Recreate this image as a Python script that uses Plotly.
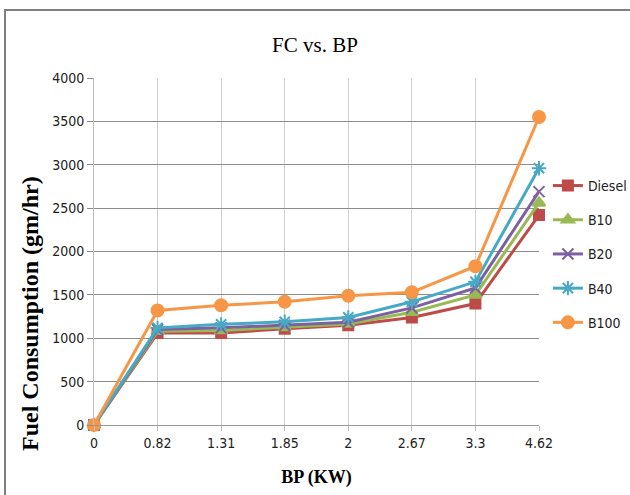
import plotly.graph_objects as go

bp = ["0", "0.82", "1.31", "1.85", "2", "2.67", "3.3", "4.62"]
diesel = [0, 1060, 1060, 1110, 1150, 1240, 1400, 2420]
b10 = [0, 1080, 1090, 1125, 1165, 1300, 1500, 2560]
b20 = [0, 1100, 1120, 1150, 1185, 1350, 1580, 2690]
b40 = [0, 1120, 1160, 1190, 1240, 1420, 1650, 2960]
b100 = [0, 1320, 1380, 1420, 1490, 1530, 1830, 3550]

series = [
    ("Diesel", diesel, "#BE4B48", "square", 10),
    ("B10", b10, "#98B954", "triangle-up", 11),
    ("B20", b20, "#7D60A0", "x-thin-open", 11),
    ("B40", b40, "#46AAC5", "asterisk-open", 12),
    ("B100", b100, "#F79646", "circle", 12),
]

narrow = "Liberation Sans Narrow, DejaVu Sans Condensed, Roboto Condensed, Arial Narrow, sans-serif"

fig = go.Figure()
for name, vals, col, sym, sz in series:
    fig.add_trace(go.Scatter(
        x=bp, y=vals, name=name, mode="lines+markers", legendgroup=name,
        line=dict(color=col, width=3),
        marker=dict(symbol=sym, size=sz, color=col, line=dict(color=col, width=2)),
        cliponaxis=False,
    ))

tickfont = dict(family=narrow, size=14, color="#222")

fig.update_layout(
    width=630, height=495,
    margin=dict(l=94, r=91, t=78, b=70, autoexpand=False),
    paper_bgcolor="white", plot_bgcolor="white",
    title=dict(text="FC vs. BP", x=0.5, xanchor="center", y=0.91, yanchor="middle",
               font=dict(family="Liberation Serif, serif", size=21, color="black")),
    showlegend=True,
    legend=dict(x=1.02, y=0.735, xanchor="left", yanchor="top",
                font=dict(family=narrow, size=14, color="#222"),
                tracegroupgap=13, itemwidth=30, bgcolor="rgba(0,0,0,0)"),
    xaxis=dict(type="category", range=[0, 7], showgrid=True, gridcolor="#D0D0D0", gridwidth=1,
               ticks="outside", ticklen=5, tickcolor="#BFBFBF", tickfont=tickfont,
               showline=True, linecolor="#9A9A9A", zeroline=False,
               title=dict(text="<b>BP (KW)</b>", standoff=20,
                          font=dict(family="Liberation Serif, serif", size=18, color="black"))),
    yaxis=dict(range=[0, 4000], dtick=500, showgrid=True, gridcolor="#8C8C8C", gridwidth=1,
               ticks="outside", ticklen=6, tickcolor="#8C8C8C", tickfont=tickfont,
               showline=True, linecolor="#BFBFBF", zeroline=False),
)

fig.add_annotation(text="<b>Fuel Consumption (gm/hr)</b>", xref="paper", yref="paper",
                   x=(30 - 94) / 445, y=(425 - 314) / 347, xanchor="center", yanchor="middle",
                   textangle=-90, showarrow=False,
                   font=dict(family="Liberation Serif, serif", size=24, color="black"))

fig.add_shape(type="rect", xref="paper", yref="paper",
              x0=-0.2, x1=1.35, y0=-0.35, y1=1.196,
              line=dict(color="#7F7F7F", width=2), fillcolor="rgba(0,0,0,0)", layer="below")

fig.write_html("out.html")
